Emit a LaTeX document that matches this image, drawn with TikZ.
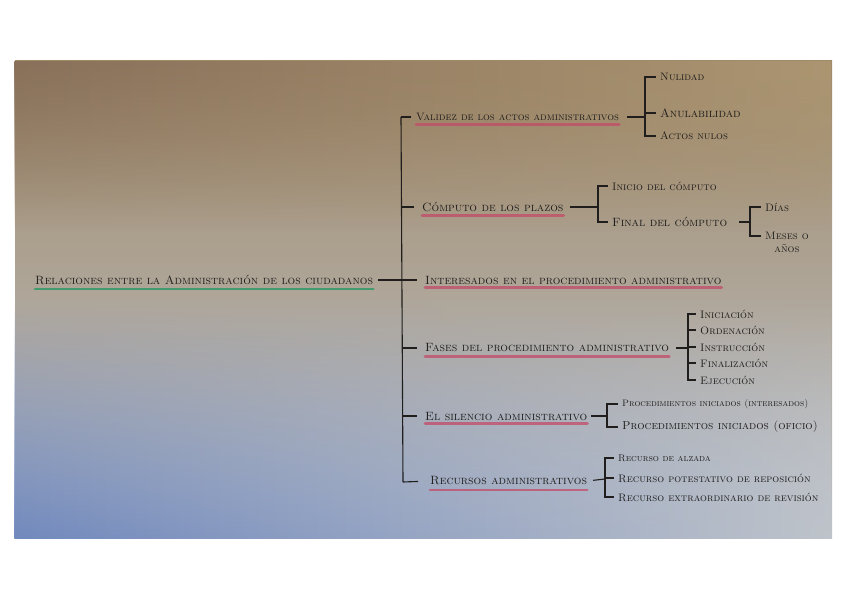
\documentclass[tikz,border=0pt]{standalone}
\usepackage{xcolor}
\usepackage{tikz}
\usetikzlibrary{positioning,fadings}

\definecolor{ink}{HTML}{1F1E1C}
\definecolor{marker}{HTML}{C44A68}
\definecolor{markgreen}{HTML}{2F9A68}
\definecolor{phototop}{HTML}{A08A6A}
\definecolor{photomid}{HTML}{D8D5D1}
\definecolor{photobot}{HTML}{BEC3CA}
\definecolor{photoblue}{HTML}{7189BD}
\definecolor{photobrown}{HTML}{88705A}
\definecolor{phototan}{HTML}{AC9672}

\begin{document}
\begin{tikzpicture}[x=1pt, y=-1pt,
  every node/.style={text=ink, inner sep=0pt, anchor=west},
  branch/.style={font=\fontsize{12}{13}\selectfont\scshape},
  leaf/.style={font=\fontsize{10.8}{12}\selectfont\scshape},
  wire/.style={draw=ink, line width=1.1pt},
  redline/.style={draw=marker, line width=2.8pt, opacity=0.75, line cap=round},
  greenline/.style={draw=markgreen, line width=2.8pt, opacity=0.85, line cap=round}]

  \useasboundingbox (0,0) rectangle (848,599);

  % the photographed sheet
  \shade[top color=phototop, middle color=photomid, bottom color=photobot]
    (15,61) rectangle (832,538);
  \shade[left color=photoblue, right color=photobot, path fading=north]
    (15,300) rectangle (832,538);
  \shade[left color=photobrown, right color=phototan, path fading=south]
    (15,61) rectangle (832,230);

  % root and spine
  \node[branch] (root) at (35,280) {Relaciones entre la Administración de los ciudadanos};
  \draw[greenline] ([yshift=-4pt]root.south west) -- ([yshift=-4pt]root.south east);
  \coordinate (b1) at (401,117);
  \coordinate (b2) at (401,207);
  \coordinate (b4) at (402,348);
  \coordinate (b5) at (402,416);
  \coordinate (b6) at (403,482);
  \draw[wire] (b1) -- (b6);

  % Validez
  \node[branch, font=\fontsize{10.7}{12}\selectfont\scshape] (val) at (416,117)
    {Validez de los actos administrativos};
  \node[leaf] (nul) at (660,77)  {Nulidad};
  \node[leaf, font=\fontsize{12}{13}\selectfont\scshape] (anu) at (660,113) {Anulabilidad};
  \node[leaf] (act) at (660,136) {Actos nulos};
  \coordinate (k1) at (645,117);
  \draw[redline] ([yshift=-3.5pt]val.south west) -- ([yshift=-3.5pt]val.south east);
  \draw[wire, shorten >=5pt] (b1) -- (val.west);
  \draw[wire, shorten <=8pt] (val.east) -- (k1);
  \foreach \c in {nul, anu, act}
    \draw[wire, shorten >=4pt] (k1) |- (\c.west);

  % Computo de los plazos
  \node[branch] (com) at (422,207) {Cómputo de los plazos};
  \node[leaf] (ini) at (612,186) {Inicio del cómputo};
  \node[leaf, font=\fontsize{12}{13}\selectfont\scshape] (fin) at (612,222) {Final del cómputo};
  \node[leaf] (dia) at (765,207) {Días};
  \node[leaf] (mes) at (765,236) {Meses o};
  \node[leaf, below=4pt of mes, anchor=north] (ano) {años};
  \coordinate (k2) at (598,207);
  \coordinate (k3) at (750,222);
  \draw[redline] ([yshift=-3.5pt]com.south west) -- ([yshift=-3.5pt]com.south east);
  \draw[wire, shorten >=8pt] (b2) -- (com.west);
  \draw[wire, shorten <=6pt] (com.east) -- (k2);
  \draw[wire, shorten >=4pt] (k2) |- (ini.west);
  \draw[wire, shorten >=4pt] (k2) |- (fin.west);
  \draw[wire, shorten <=12pt] (fin.east) -- (k3);
  \draw[wire, shorten >=4pt] (k3) |- (dia.west);
  \draw[wire, shorten >=4pt] (k3) |- (mes.west);

  % Interesados
  \node[branch] (int) at (425,280) {Interesados en el procedimiento administrativo};
  \draw[redline] ([yshift=-3pt]int.south west) -- ([yshift=-3pt]int.south east);
  \draw[wire, shorten <=5pt, shorten >=8pt] (root) -- (int);

  % Fases del procedimiento
  \node[branch] (fas) at (425,348) {Fases del procedimiento administrativo};
  \node[leaf] (ic)  at (700,314) {Iniciación};
  \node[leaf] (ord) at (700,330) {Ordenación};
  \node[leaf] (ins) at (700,347) {Instrucción};
  \node[leaf] (fnz) at (700,363) {Finalización};
  \node[leaf] (eje) at (700,380) {Ejecución};
  \coordinate (k4) at (688,348);
  \draw[redline] ([yshift=-4.5pt]fas.south west) -- ([yshift=-4.5pt]fas.south east);
  \draw[wire, shorten >=8pt] (b4) -- (fas.west);
  \draw[wire, shorten <=7pt] (fas.east) -- (k4);
  \foreach \c in {ic, ord, ins, fnz, eje}
    \draw[wire, shorten >=4pt] (k4) |- (\c.west);

  % Silencio administrativo
  \node[branch] (sil) at (425,416) {El silencio administrativo};
  \node[leaf, font=\fontsize{9.3}{10}\selectfont\scshape] (pi1) at (622,404)
    {Procedimientos iniciados (interesados)};
  \node[leaf, font=\fontsize{11.5}{12}\selectfont\scshape] (pi2) at (622,427)
    {Procedimientos iniciados (oficio)};
  \coordinate (k5) at (607,416);
  \draw[redline] ([yshift=-3.5pt]sil.south west) -- ([yshift=-3.5pt]sil.south east);
  \draw[wire, shorten >=8pt] (b5) -- (sil.west);
  \draw[wire, shorten <=4pt] (sil.east) -- (k5);
  \draw[wire, shorten >=4pt] (k5) |- (pi1.west);
  \draw[wire, shorten >=4pt] (k5) |- (pi2.west);

  % Recursos administrativos
  \node[branch] (rec) at (430,481) {Recursos administrativos};
  \node[leaf, font=\fontsize{9.6}{11}\selectfont\scshape] (ra) at (618,458) {Recurso de alzada};
  \node[leaf] (rp) at (618,478) {Recurso potestativo de reposición};
  \node[leaf] (re) at (618,497) {Recurso extraordinario de revisión};
  \coordinate (k6) at (605,479);
  \draw[redline] ([yshift=-4.5pt]rec.south west) -- ([yshift=-4.5pt]rec.south east);
  \draw[wire, shorten >=12pt] (b6) -- (rec.west);
  \draw[wire, shorten <=6pt] (rec.east) -- (k6);
  \foreach \c in {ra, rp, re}
    \draw[wire, shorten >=4pt] (k6) |- (\c.west);
\end{tikzpicture}
\end{document}
